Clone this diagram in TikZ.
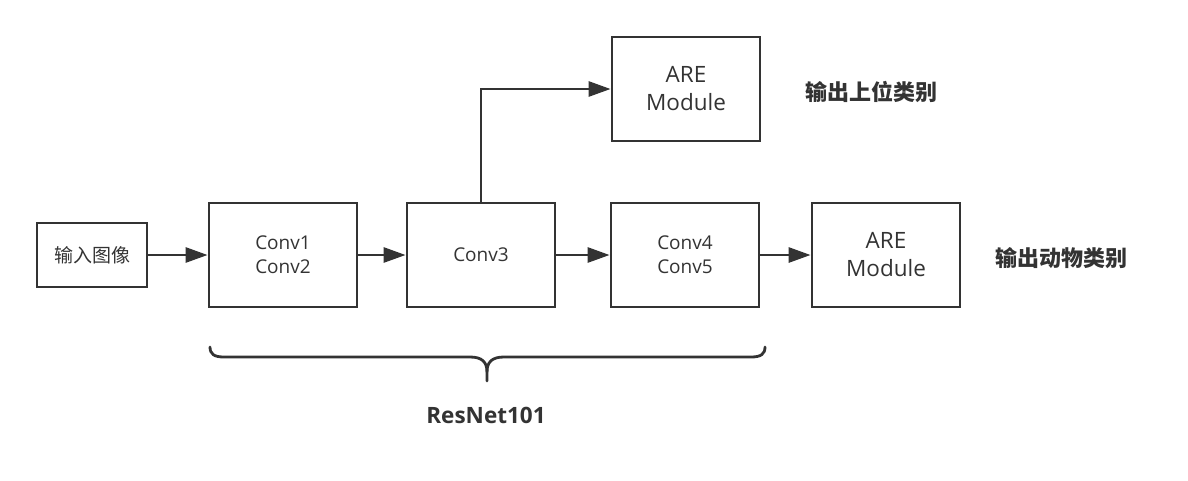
\documentclass[tikz,border=0pt]{standalone}
\usepackage{fontspec}
\setmainfont{Open Sans}
\newfontfamily\cjk{Noto Sans CJK SC}
\usetikzlibrary{arrows.meta}
\definecolor{ink}{HTML}{333333}
\tikzset{
  blk/.style={draw=ink, line width=2.8pt, minimum width=148pt, minimum height=104pt, inner sep=0pt, text=ink, align=center},
  conv/.style={blk, font=\fontsize{19}{24}\selectfont},
  are/.style={blk, font=\fontsize{22.5}{28}\selectfont},
  arr/.style={draw=ink, line width=2.8pt, -{Triangle[length=22pt,width=15pt]}},
  lbl/.style={text=ink, font=\cjk\bfseries\fontsize{22}{24}\selectfont},
  bracel/.style={draw=ink, line width=2.8pt, line cap=round}
}
\begin{document}
\begin{tikzpicture}[x=1pt,y=-1pt]
\useasboundingbox (0,0) rectangle (1188,480);
\node[blk, minimum width=110pt, minimum height=64pt, font=\cjk\fontsize{19}{22}\selectfont] (in) at (92,255) {输入图像};
\node[conv] (c12) at (283,255) {Conv1\\Conv2};
\node[conv] (c3) at (481,255) {Conv3};
\node[conv] (c45) at (685,255) {Conv4\\Conv5};
\node[are] (are2) at (886,255) {ARE\\Module};
\node[are] (are1) at (686,89) {ARE\\Module};
\node[lbl] (o1) at (871,92) {输出上位类别};
\node[lbl] (o2) at (1061,258) {输出动物类别};
\draw[arr] (in) -- (c12);
\draw[arr] (c12) -- (c3);
\draw[arr] (c3) -- (c45);
\draw[arr] (c45) -- (are2);
\draw[arr] (c3.north) |- (are1.west);
\coordinate (bl) at (210,347);
\coordinate (br) at (765,347);
\coordinate (bt) at (487,381);
\draw[bracel] (bl) .. controls (210,354) and (214,357) .. (224,357) -- (470,357)
  .. controls (482,357) and (487,362) .. (487,372) -- (bt);
\draw[bracel] (br) .. controls (765,354) and (761,357) .. (751,357) -- (504,357)
  .. controls (492,357) and (487,362) .. (487,372);
\node[text=ink, font=\bfseries\fontsize{22.5}{24}\selectfont] (rn) at (486,415) {ResNet101};
\end{tikzpicture}
\end{document}
